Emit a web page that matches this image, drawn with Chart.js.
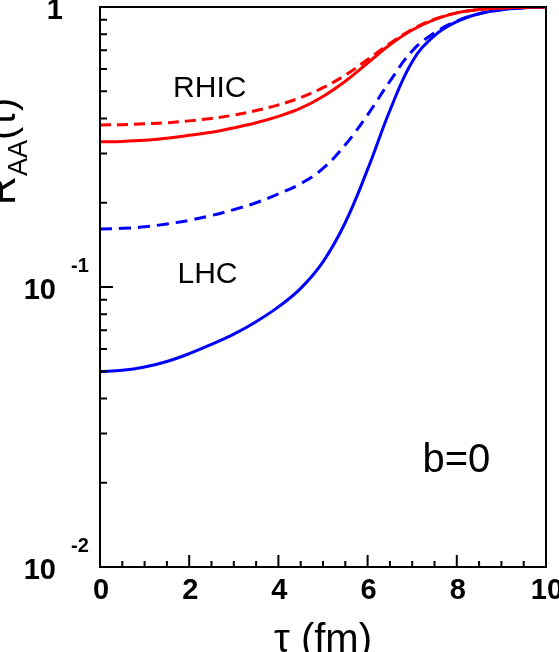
<!DOCTYPE html>
<html>
<head>
<meta charset="utf-8">
<script src="https://cdn.jsdelivr.net/npm/chart.js@4/dist/chart.umd.min.js"></script>
<style>
  html, body { margin: 0; padding: 0; background: #fff; }
  #wrap { width: 559px; height: 652px; position: relative; }
</style>
</head>
<body>
<div id="wrap"><canvas id="c" width="559" height="652"></canvas></div>
<script>
// ---- data ----
const tau = [0, 0.5, 1, 1.5, 2, 2.5, 3, 3.5, 4, 4.5, 5, 5.5, 6, 6.5, 7, 7.5, 8, 8.5, 9, 9.5, 10];
const rhicSolid  = [0.330, 0.331, 0.334, 0.340, 0.348, 0.357, 0.370, 0.386, 0.407, 0.435, 0.479, 0.543, 0.631, 0.733, 0.828, 0.902, 0.953, 0.979, 0.991, 0.998, 1.0];
const rhicDashed = [0.379, 0.380, 0.383, 0.386, 0.392, 0.400, 0.411, 0.427, 0.447, 0.475, 0.515, 0.571, 0.649, 0.741, 0.832, 0.904, 0.953, 0.979, 0.991, 0.998, 1.0];
const lhcDashed  = [0.161, 0.162, 0.164, 0.168, 0.173, 0.180, 0.189, 0.200, 0.215, 0.234, 0.265, 0.322, 0.412, 0.543, 0.697, 0.809, 0.891, 0.946, 0.977, 0.993, 1.0];
const lhcSolid   = [0.0499, 0.0504, 0.0518, 0.0542, 0.0578, 0.0624, 0.0679, 0.0752, 0.0849, 0.0989, 0.123, 0.170, 0.263, 0.427, 0.638, 0.791, 0.887, 0.946, 0.977, 0.993, 1.0];

const xMajorTicks = [0, 2, 4, 6, 8, 10];
const xTickLabels = ['0', '2', '4', '6', '8', '10'];
const xMinorStep = 0.5;
const yDecades = [1, 0.1, 0.01];
const yTickBase = ['1', '10', '10'];
const yTickExp = ['', '-1', '-2'];

const labels = [
  { text: 'RHIC', x: 2.46, y: 0.477, size: 30 },
  { text: 'LHC',  x: 2.41, y: 0.1035, size: 30 },
  { text: 'b=0',  x: 7.99, y: 0.0218, size: 40 }
];

function pts(ys) { return tau.map((t, i) => ({ x: t, y: ys[i] })); }

const framePlugin = {
  id: 'frame',
  afterDraw(chart) {
    const ctx = chart.ctx;
    const a = chart.chartArea;
    const xs = chart.scales.x, ys = chart.scales.y;
    ctx.save();
    ctx.strokeStyle = '#000';
    ctx.lineWidth = 2;
    ctx.strokeRect(a.left, a.top, a.right - a.left, a.bottom - a.top);
    // x ticks (inward)
    ctx.beginPath();
    for (let v = 0; v <= 10 + 1e-9; v += xMinorStep) {
      const px = xs.getPixelForValue(v);
      const major = xMajorTicks.some(m => Math.abs(m - v) < 1e-9);
      const len = major ? 12 : 6;
      ctx.moveTo(px, a.bottom);
      ctx.lineTo(px, a.bottom - len);
    }
    // y ticks
    for (let d = 0; d < yDecades.length; d++) {
      const dec = yDecades[d];
      const py = ys.getPixelForValue(dec);
      ctx.moveTo(a.left, py); ctx.lineTo(a.left + 13, py);
      if (d < yDecades.length - 1) {
        for (let m = 2; m <= 9; m++) {
          const pm = ys.getPixelForValue(dec / 10 * m);
          ctx.moveTo(a.left, pm); ctx.lineTo(a.left + 7, pm);
        }
      }
    }
    ctx.stroke();

    // tick labels
    ctx.fillStyle = '#000';
    ctx.textBaseline = 'alphabetic';
    ctx.font = 'bold 29px "Liberation Sans", Arial, sans-serif';
    ctx.textAlign = 'center';
    xMajorTicks.forEach((v, i) => {
      ctx.fillText(xTickLabels[i], xs.getPixelForValue(v) + 1, a.bottom + 32);
    });
    yDecades.forEach((v, i) => {
      const py = ys.getPixelForValue(v);
      ctx.font = 'bold 29px "Liberation Sans", Arial, sans-serif';
      ctx.textAlign = 'right';
      if (yTickExp[i] === '') {
        ctx.fillText(yTickBase[i], a.left - 37, py + 12);
      } else {
        ctx.fillText(yTickBase[i], a.left - 44, py + 12);
        ctx.font = 'bold 20px "Liberation Sans", Arial, sans-serif';
        ctx.textAlign = 'left';
        ctx.fillText(yTickExp[i], a.left - 29, py - 15);
      }
    });

    // annotations
    ctx.textAlign = 'center';
    labels.forEach(l => {
      ctx.font = l.size + 'px "Liberation Sans", Arial, sans-serif';
      ctx.fillText(l.text, xs.getPixelForValue(l.x), ys.getPixelForValue(l.y));
    });

    // x title
    ctx.font = '40px "Liberation Sans", Arial, sans-serif';
    ctx.textAlign = 'center';
    ctx.fillText('\u03C4 (fm)', (a.left + a.right) / 2, 652);

    // y title (rotated)
    ctx.save();
    ctx.translate(15, 205);
    ctx.rotate(-Math.PI / 2);
    ctx.textAlign = 'left';
    ctx.font = '40px "Liberation Sans", Arial, sans-serif';
    ctx.fillText('R', 0, 0);
    let w = ctx.measureText('R').width;
    ctx.font = '27px "Liberation Sans", Arial, sans-serif';
    ctx.fillText('AA', w, 12);
    w += ctx.measureText('AA').width;
    ctx.font = '40px "Liberation Sans", Arial, sans-serif';
    ctx.fillText('(\u03C4)', w, 0);
    ctx.restore();

    ctx.restore();
  }
};

new Chart(document.getElementById('c'), {
  type: 'line',
  data: {
    datasets: [
      { data: pts(rhicDashed), borderColor: '#ff0000', borderWidth: 3, borderDash: [11, 6], pointRadius: 0, tension: 0.4, fill: false },
      { data: pts(rhicSolid),  borderColor: '#ff0000', borderWidth: 3, pointRadius: 0, tension: 0.4, fill: false },
      { data: pts(lhcDashed),  borderColor: '#0000ff', borderWidth: 3, borderDash: [12, 7], pointRadius: 0, tension: 0.4, fill: false },
      { data: pts(lhcSolid),   borderColor: '#0000ff', borderWidth: 3, pointRadius: 0, tension: 0.4, fill: false }
    ]
  },
  options: {
    responsive: false,
    animation: false,
    devicePixelRatio: 1,
    layout: { padding: { left: 100, top: 7, right: 13, bottom: 85 } },
    plugins: { legend: { display: false }, tooltip: { enabled: false } },
    scales: {
      x: { type: 'linear', min: 0, max: 10, display: false },
      y: { type: 'logarithmic', min: 0.01, max: 1, display: false }
    }
  },
  plugins: [framePlugin]
});
</script>
</body>
</html>
